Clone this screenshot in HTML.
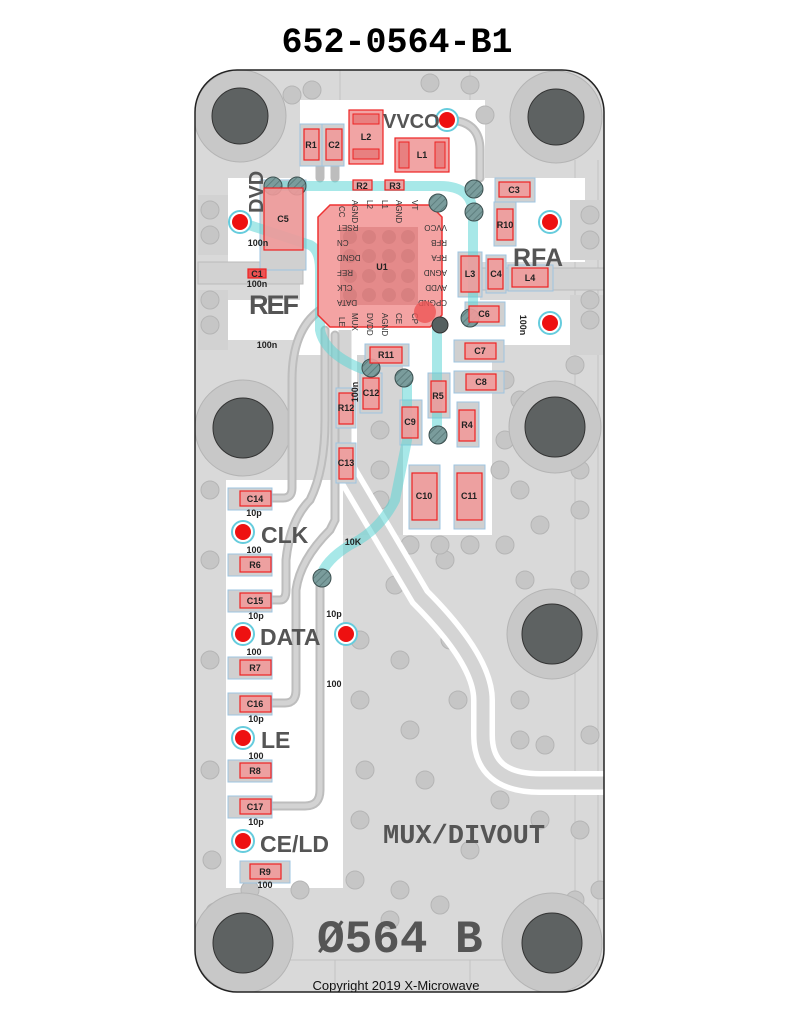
<!DOCTYPE html>
<html><head><meta charset="utf-8"><style>
html,body{margin:0;padding:0;background:#fff;}
svg{display:block;}
.t{font-family:"Liberation Sans",sans-serif;font-weight:bold;}
.big{fill:#555;font-family:"Liberation Sans",sans-serif;font-weight:bold;}
.pin{font-family:"Liberation Sans",sans-serif;font-size:8px;fill:#333;}
</style></head><body>
<svg width="791" height="1024" viewBox="0 0 791 1024" xmlns="http://www.w3.org/2000/svg">
<defs>
<pattern id="h" width="5" height="5" patternUnits="userSpaceOnUse" patternTransform="rotate(45)"><rect width="5" height="5" fill="#7a9c9c"/><line x1="0" y1="0" x2="0" y2="5" stroke="#5e7e7e" stroke-width="2"/></pattern>
<clipPath id="bc"><rect x="195" y="70" width="409" height="922" rx="42"/></clipPath>
</defs>
<text x="397" y="52" text-anchor="middle" style="font-family:'Liberation Mono',monospace;font-weight:bold;font-size:35px" fill="#000">652-0564-B1</text>

<g clip-path="url(#bc)">
<rect x="195" y="70" width="409" height="922" fill="#d9d9d9"/>
<!-- grid lines faint -->
<g stroke="#c2c2c2" stroke-width="1" fill="none">
<line x1="340" y1="70" x2="340" y2="100"/><line x1="470" y1="70" x2="470" y2="100"/>
<line x1="575" y1="160" x2="575" y2="990"/><line x1="598" y1="160" x2="598" y2="990"/>
<line x1="335" y1="960" x2="335" y2="992"/><line x1="470" y1="960" x2="470" y2="992"/>
<line x1="195" y1="960" x2="604" y2="960"/>
</g>
<!-- white regions -->
<path d="M300 100 H485 V178 H585 V262 H480 V300 H585 V345 H228 V300 H300 V262 H228 V178 H300 Z" fill="#fff"/>
<rect x="226" y="480" width="117" height="408" fill="#fff"/>
<rect x="226" y="340" width="70" height="140" fill="#d9d9d9"/>
<rect x="400" y="335" width="92" height="200" fill="#fff"/>
<rect x="296" y="335" width="110" height="20" fill="#fff"/>
<!-- gray strips -->
<rect x="198" y="262" width="105" height="22" fill="#d2d2d2" stroke="#bbb"/>
<rect x="480" y="268" width="124" height="22" fill="#d2d2d2" stroke="#bbb"/>
<rect x="198" y="195" width="30" height="60" fill="#d2d2d2"/>
<rect x="198" y="290" width="30" height="60" fill="#d2d2d2"/>
<rect x="570" y="200" width="34" height="60" fill="#d2d2d2"/>
<rect x="570" y="295" width="34" height="60" fill="#d2d2d2"/>
<rect x="343" y="355" width="60" height="180" fill="#d5d5d5"/>
<!-- vias -->
<g fill="#c6c6c6" stroke="#b5b5b5" stroke-width="1">
<circle cx="292" cy="95" r="9"/><circle cx="312" cy="90" r="9"/><circle cx="430" cy="83" r="9"/><circle cx="470" cy="85" r="9"/><circle cx="485" cy="115" r="9"/>
<circle cx="210" cy="210" r="9"/><circle cx="210" cy="235" r="9"/><circle cx="210" cy="300" r="9"/><circle cx="210" cy="325" r="9"/><circle cx="590" cy="215" r="9"/><circle cx="590" cy="240" r="9"/><circle cx="590" cy="300" r="9"/><circle cx="590" cy="320" r="9"/>
<circle cx="210" cy="490" r="9"/><circle cx="210" cy="560" r="9"/><circle cx="210" cy="660" r="9"/><circle cx="210" cy="770" r="9"/><circle cx="212" cy="860" r="9"/><circle cx="215" cy="912" r="9"/>
<circle cx="360" cy="640" r="9"/><circle cx="360" cy="700" r="9"/><circle cx="365" cy="770" r="9"/><circle cx="360" cy="820" r="9"/><circle cx="355" cy="880" r="9"/>
<circle cx="395" cy="585" r="9"/><circle cx="400" cy="660" r="9"/><circle cx="410" cy="730" r="9"/><circle cx="425" cy="780" r="9"/><circle cx="400" cy="890" r="9"/><circle cx="440" cy="905" r="9"/><circle cx="390" cy="920" r="9"/>
<circle cx="445" cy="560" r="9"/><circle cx="450" cy="640" r="9"/><circle cx="458" cy="700" r="9"/><circle cx="500" cy="800" r="9"/><circle cx="470" cy="850" r="9"/><circle cx="540" cy="820" r="9"/><circle cx="580" cy="830" r="9"/>
<circle cx="505" cy="545" r="9"/><circle cx="525" cy="580" r="9"/><circle cx="540" cy="525" r="9"/><circle cx="580" cy="510" r="9"/><circle cx="580" cy="580" r="9"/><circle cx="500" cy="470" r="9"/><circle cx="520" cy="490" r="9"/><circle cx="580" cy="470" r="9"/>
<circle cx="505" cy="380" r="9"/><circle cx="520" cy="400" r="9"/><circle cx="505" cy="440" r="9"/><circle cx="575" cy="365" r="9"/><circle cx="520" cy="700" r="9"/><circle cx="520" cy="740" r="9"/><circle cx="590" cy="735" r="9"/><circle cx="545" cy="745" r="9"/>
<circle cx="410" cy="545" r="9"/><circle cx="440" cy="545" r="9"/><circle cx="470" cy="545" r="9"/><circle cx="380" cy="430" r="9"/><circle cx="380" cy="470" r="9"/><circle cx="380" cy="500" r="9"/>
<circle cx="300" cy="890" r="9"/><circle cx="250" cy="890" r="9"/><circle cx="600" cy="890" r="9"/><circle cx="575" cy="900" r="9"/>
</g>
<!-- mounting holes -->
<g>
<circle cx="240" cy="116" r="46" fill="#c8c8c8" stroke="#b4b4b4"/><circle cx="240" cy="116" r="28" fill="#5e6262" stroke="#333"/>
<circle cx="556" cy="117" r="46" fill="#c8c8c8" stroke="#b4b4b4"/><circle cx="556" cy="117" r="28" fill="#5e6262" stroke="#333"/>
<circle cx="243" cy="428" r="48" fill="#c8c8c8" stroke="#b4b4b4"/><circle cx="243" cy="428" r="30" fill="#5e6262" stroke="#333"/>
<circle cx="555" cy="427" r="46" fill="#c8c8c8" stroke="#b4b4b4"/><circle cx="555" cy="427" r="30" fill="#5e6262" stroke="#333"/>
<circle cx="552" cy="634" r="45" fill="#c8c8c8" stroke="#b4b4b4"/><circle cx="552" cy="634" r="30" fill="#5e6262" stroke="#333"/>
<circle cx="243" cy="943" r="50" fill="#c8c8c8" stroke="#b4b4b4"/><circle cx="243" cy="943" r="30" fill="#5e6262" stroke="#333"/>
<circle cx="552" cy="943" r="50" fill="#c8c8c8" stroke="#b4b4b4"/><circle cx="552" cy="943" r="30" fill="#5e6262" stroke="#333"/>
</g>
<!-- MUX white-outline trace -->
<path d="M345 330 V470 L420 597 Q483 660 483 700 V735 Q483 783 540 783 H610" fill="none" stroke="#fff" stroke-width="24"/>
<path d="M345 330 V470 L420 597 Q483 660 483 700 V735 Q483 783 540 783 H610" fill="none" stroke="#d4d4d4" stroke-width="13"/>
<!-- gray signal traces -->
<g fill="none" stroke="#bdbdbd" stroke-width="9" stroke-linecap="round">
<path d="M271 498 H283 Q292 498 292 488 V380 Q292 330 320 310"/>
<path d="M271 600 H280 Q286 600 286 590 V560 Q290 520 310 500 Q325 470 325 420 V330"/>
<path d="M271 703 H285 Q296 703 296 690 V590 Q300 560 330 530 L335 520 V335"/>
<path d="M271 806 H305 Q320 806 320 790 V580"/>
<path d="M447 120 Q480 120 480 150 V178"/>
<path d="M320 160 V178"/><path d="M335 160 V178"/>
</g>
<g fill="none" stroke="#d3d3d3" stroke-width="5" stroke-linecap="round">
<path d="M271 498 H283 Q292 498 292 488 V380 Q292 330 320 310"/>
<path d="M271 600 H280 Q286 600 286 590 V560 Q290 520 310 500 Q325 470 325 420 V330"/>
<path d="M271 703 H285 Q296 703 296 690 V590 Q300 560 330 530 L335 520 V335"/>
<path d="M271 806 H305 Q320 806 320 790 V580"/>
<path d="M447 120 Q480 120 480 150 V178"/>
</g>
<!-- pad backgrounds -->
<g fill="#d0d0d0" stroke="#9ec4e0" stroke-width="1">
<rect x="300" y="124" width="22" height="42"/><rect x="322" y="124" width="22" height="42"/>
<rect x="228" y="488" width="44" height="22"/><rect x="228" y="554" width="44" height="22"/><rect x="228" y="590" width="44" height="22"/><rect x="228" y="657" width="44" height="22"/><rect x="228" y="693" width="44" height="22"/><rect x="228" y="760" width="44" height="22"/><rect x="228" y="796" width="44" height="22"/><rect x="240" y="861" width="50" height="22"/>
<rect x="409" y="465" width="31" height="64"/><rect x="454" y="465" width="31" height="64"/>
<rect x="454" y="340" width="50" height="22"/><rect x="454" y="371" width="50" height="22"/>
<rect x="400" y="400" width="22" height="45"/><rect x="428" y="373" width="22" height="45"/><rect x="457" y="402" width="22" height="45"/>
<rect x="336" y="388" width="20" height="40"/><rect x="336" y="443" width="20" height="40"/>
<rect x="360" y="373" width="22" height="40"/><rect x="365" y="344" width="44" height="22"/>
<rect x="260" y="180" width="46" height="90"/><rect x="494" y="202" width="22" height="44"/><rect x="495" y="178" width="40" height="24"/>
<rect x="458" y="252" width="24" height="45"/><rect x="486" y="255" width="20" height="38"/><rect x="508" y="265" width="45" height="26"/>
<rect x="465" y="302" width="40" height="24"/>
</g>
<!-- cyan traces -->
<g fill="none" stroke="#5fd6d6" stroke-opacity="0.55" stroke-width="10">
<path d="M272 186 H440 Q473 186 473 215 V320"/>
<path d="M240 222 L310 245 Q320 250 320 270 V330 Q325 355 365 370"/>
<path d="M437 320 V440"/>
<path d="M407 380 V440 L395 500 Q380 530 350 545 Q325 560 320 578"/>
</g>
<!-- U1 -->
<path d="M330 205 H430 L442 217 V315 L430 327 H330 L318 315 V217 Z" fill="#f4a3a3" stroke="#e33" stroke-width="1.5"/>
<rect x="340" y="227" width="78" height="78" fill="#e48a8a"/>
<g fill="#d88080">
<circle cx="350" cy="237" r="7"/><circle cx="369" cy="237" r="7"/><circle cx="389" cy="237" r="7"/><circle cx="408" cy="237" r="7"/>
<circle cx="350" cy="256" r="7"/><circle cx="369" cy="256" r="7"/><circle cx="389" cy="256" r="7"/><circle cx="408" cy="256" r="7"/>
<circle cx="350" cy="276" r="7"/><circle cx="369" cy="276" r="7"/><circle cx="389" cy="276" r="7"/><circle cx="408" cy="276" r="7"/>
<circle cx="350" cy="295" r="7"/><circle cx="369" cy="295" r="7"/><circle cx="389" cy="295" r="7"/><circle cx="408" cy="295" r="7"/>
</g>
<text x="382" y="270" text-anchor="middle" class="t" font-size="9" fill="#222">U1</text>
<g class="pin">
<text x="339" y="206" transform="rotate(90 339 206)">CC</text><text x="352" y="200" transform="rotate(90 352 200)">AGND</text><text x="367" y="200" transform="rotate(90 367 200)">L2</text><text x="382" y="200" transform="rotate(90 382 200)">L1</text><text x="396" y="200" transform="rotate(90 396 200)">AGND</text><text x="412" y="200" transform="rotate(90 412 200)">VT</text>
<text x="339" y="317" transform="rotate(90 339 317)">LE</text><text x="352" y="313" transform="rotate(90 352 313)">MUX</text><text x="367" y="313" transform="rotate(90 367 313)">DVDD</text><text x="382" y="313" transform="rotate(90 382 313)">AGND</text><text x="396" y="313" transform="rotate(90 396 313)">CE</text><text x="412" y="313" transform="rotate(90 412 313)">CP</text>
<text x="337" y="225" transform="rotate(180 337 225)" text-anchor="end">RSET</text><text x="337" y="240" transform="rotate(180 337 240)" text-anchor="end">CN</text><text x="337" y="255" transform="rotate(180 337 255)" text-anchor="end">DGND</text><text x="337" y="270" transform="rotate(180 337 270)" text-anchor="end">REF</text><text x="337" y="285" transform="rotate(180 337 285)" text-anchor="end">CLK</text><text x="337" y="300" transform="rotate(180 337 300)" text-anchor="end">DATA</text>
<text x="447" y="225" transform="rotate(180 447 225)">VVCO</text><text x="447" y="240" transform="rotate(180 447 240)">RFB</text><text x="447" y="255" transform="rotate(180 447 255)">RFA</text><text x="447" y="270" transform="rotate(180 447 270)">AGND</text><text x="447" y="285" transform="rotate(180 447 285)">AVDD</text><text x="447" y="300" transform="rotate(180 447 300)">CPGND</text>
</g>
<circle cx="425" cy="312" r="11" fill="#ee5555" fill-opacity="0.8"/>
<!-- hatched vias -->
<g fill="url(#h)" stroke="#3c5050" stroke-width="1">
<circle cx="273" cy="186" r="9"/><circle cx="297" cy="186" r="9"/><circle cx="438" cy="203" r="9"/><circle cx="474" cy="189" r="9"/><circle cx="474" cy="212" r="9"/><circle cx="470" cy="318" r="9"/>
<circle cx="371" cy="368" r="9"/><circle cx="404" cy="378" r="9"/><circle cx="438" cy="435" r="9"/><circle cx="322" cy="578" r="9"/>
</g>
<circle cx="440" cy="325" r="8" fill="#556060" stroke="#333"/>
<!-- components -->
<g fill="#ef9a9a" fill-opacity="0.9" stroke="#e22" stroke-width="1.2">
<rect x="304" y="129" width="15" height="31"/><rect x="326" y="129" width="16" height="31"/>
<rect x="349" y="110" width="34" height="54"/><rect x="395" y="138" width="54" height="34"/>
<rect x="353" y="180" width="19" height="10"/><rect x="385" y="180" width="19" height="10"/>
<rect x="499" y="182" width="31" height="15"/><rect x="264" y="188" width="39" height="62"/>
<rect x="497" y="209" width="16" height="31"/><rect x="248" y="269" width="18" height="9" fill="#ee4444"/>
<rect x="461" y="256" width="18" height="36"/><rect x="488" y="259" width="15" height="30"/><rect x="512" y="268" width="36" height="19"/>
<rect x="469" y="306" width="30" height="16"/><rect x="465" y="343" width="31" height="16"/><rect x="370" y="347" width="32" height="16"/>
<rect x="466" y="374" width="30" height="16"/><rect x="431" y="381" width="15" height="31"/><rect x="363" y="378" width="16" height="31"/>
<rect x="339" y="393" width="14" height="31"/><rect x="402" y="407" width="16" height="31"/><rect x="459" y="410" width="16" height="31"/>
<rect x="339" y="448" width="14" height="31"/><rect x="412" y="473" width="25" height="47"/><rect x="457" y="473" width="25" height="47"/>
<rect x="240" y="491" width="31" height="15"/><rect x="240" y="557" width="31" height="15"/><rect x="240" y="593" width="31" height="15"/><rect x="240" y="660" width="31" height="15"/>
<rect x="240" y="696" width="31" height="16"/><rect x="240" y="763" width="31" height="15"/><rect x="240" y="799" width="31" height="15"/><rect x="250" y="864" width="31" height="15"/>
</g>
<g fill="#e88080" stroke="#e22" stroke-width="1"><rect x="353" y="114" width="26" height="10"/><rect x="353" y="149" width="26" height="10"/><rect x="399" y="142" width="10" height="26"/><rect x="435" y="142" width="10" height="26"/></g>
<!-- labels on components -->
<g class="t" font-size="9" fill="#222" text-anchor="middle">
<text x="311" y="148">R1</text><text x="334" y="148">C2</text><text x="366" y="140">L2</text><text x="422" y="158">L1</text>
<text x="362" y="189">R2</text><text x="395" y="189">R3</text><text x="514" y="193">C3</text><text x="283" y="222">C5</text>
<text x="505" y="228">R10</text><text x="257" y="277">C1</text><text x="470" y="277">L3</text><text x="496" y="277">C4</text><text x="530" y="281">L4</text>
<text x="484" y="317">C6</text><text x="480" y="354">C7</text><text x="386" y="358">R11</text><text x="481" y="385">C8</text><text x="438" y="399">R5</text>
<text x="371" y="396">C12</text><text x="346" y="411">R12</text><text x="410" y="425">C9</text><text x="467" y="428">R4</text><text x="346" y="466">C13</text>
<text x="424" y="499">C10</text><text x="469" y="499">C11</text>
<text x="255" y="502">C14</text><text x="255" y="568">R6</text><text x="255" y="604">C15</text><text x="255" y="671">R7</text><text x="255" y="707">C16</text><text x="255" y="774">R8</text><text x="255" y="810">C17</text><text x="265" y="875">R9</text>
<text x="258" y="246">100n</text><text x="257" y="287">100n</text><text x="267" y="348">100n</text>
<text x="254" y="516">10p</text><text x="254" y="553">100</text><text x="256" y="619">10p</text><text x="254" y="655">100</text><text x="256" y="722">10p</text><text x="256" y="759">100</text><text x="256" y="825">10p</text><text x="265" y="888">100</text>
<text x="334" y="617">10p</text><text x="334" y="687">100</text><text x="353" y="545">10K</text>
</g>
<text x="358" y="392" transform="rotate(-90 358 392)" class="t" font-size="9" fill="#222" text-anchor="middle">100n</text>
<text x="520" y="325" transform="rotate(90 520 325)" class="t" font-size="9" fill="#222" text-anchor="middle">100n</text>
<!-- test points -->
<g>
<circle cx="447" cy="120" r="11" fill="#fff" stroke="#6cd" stroke-width="2"/><circle cx="447" cy="120" r="8" fill="#e11"/>
<circle cx="240" cy="222" r="11" fill="#fff" stroke="#6cd" stroke-width="2"/><circle cx="240" cy="222" r="8" fill="#e11"/>
<circle cx="550" cy="222" r="11" fill="#fff" stroke="#6cd" stroke-width="2"/><circle cx="550" cy="222" r="8" fill="#e11"/>
<circle cx="550" cy="323" r="11" fill="#fff" stroke="#6cd" stroke-width="2"/><circle cx="550" cy="323" r="8" fill="#e11"/>
<circle cx="243" cy="532" r="11" fill="#fff" stroke="#6cd" stroke-width="2"/><circle cx="243" cy="532" r="8" fill="#e11"/>
<circle cx="243" cy="634" r="11" fill="#fff" stroke="#6cd" stroke-width="2"/><circle cx="243" cy="634" r="8" fill="#e11"/>
<circle cx="346" cy="634" r="11" fill="#fff" stroke="#6cd" stroke-width="2"/><circle cx="346" cy="634" r="8" fill="#e11"/>
<circle cx="243" cy="738" r="11" fill="#fff" stroke="#6cd" stroke-width="2"/><circle cx="243" cy="738" r="8" fill="#e11"/>
<circle cx="243" cy="841" r="11" fill="#fff" stroke="#6cd" stroke-width="2"/><circle cx="243" cy="841" r="8" fill="#e11"/>
</g>
<!-- big labels -->
<text x="383" y="128" class="big" font-size="20">VVCO</text>
<text x="263" y="213" transform="rotate(-90 263 213)" class="big" font-size="20">DVD</text>
<text x="249" y="314" class="big" font-size="27" letter-spacing="-2">REF</text>
<text x="513" y="266" class="big" font-size="25">RFA</text>
<text x="261" y="543" class="big" font-size="23">CLK</text>
<text x="260" y="645" class="big" font-size="23">DATA</text>
<text x="261" y="748" class="big" font-size="23">LE</text>
<text x="260" y="852" class="big" font-size="23">CE/LD</text>
<text x="383" y="843" style="font-family:'Liberation Mono',monospace;font-weight:bold;font-size:27px" fill="#555">MUX/DIVOUT</text>
<text x="317" y="952" style="font-family:'Liberation Mono',monospace;font-weight:bold;font-size:46px" fill="#555">Ø564 B</text>
<text x="396" y="990" text-anchor="middle" style="font-family:'Liberation Sans',sans-serif;font-size:13px" fill="#111">Copyright 2019 X-Microwave</text>
</g>
<rect x="195" y="70" width="409" height="922" rx="42" fill="none" stroke="#222" stroke-width="1.5"/>
</svg>
</body></html>
